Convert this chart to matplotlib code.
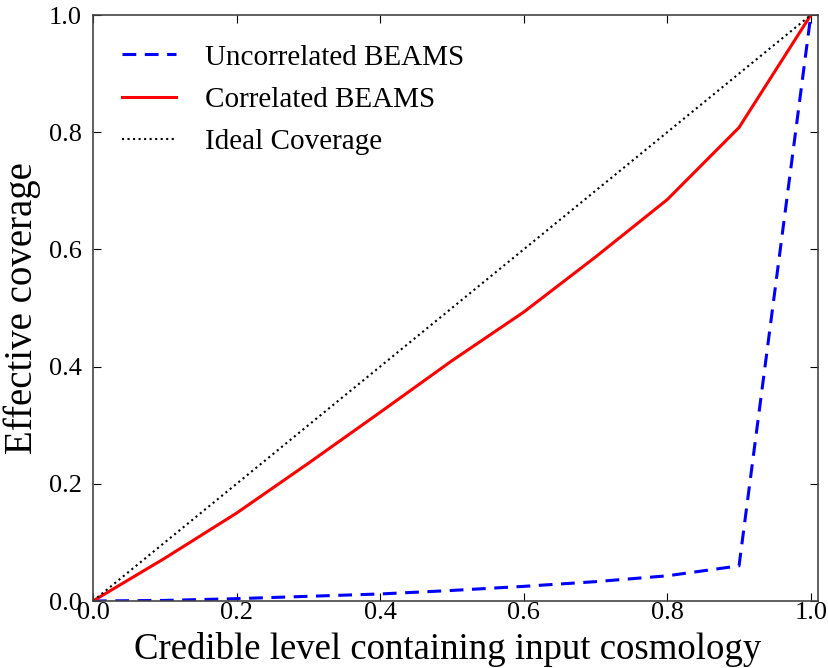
import matplotlib
matplotlib.use("Agg")
import matplotlib.pyplot as plt

plt.rcParams["font.family"] = ["Liberation Serif", "DejaVu Serif"]
plt.rcParams["mathtext.fontset"] = "stix"

levels = [0.0, 0.1, 0.2, 0.3, 0.4, 0.5, 0.6, 0.7, 0.8, 0.9, 1.0]
uncorrelated = [0.0, 0.001, 0.004, 0.008, 0.012, 0.018, 0.025, 0.033, 0.043, 0.06, 1.0]
correlated = [0.0, 0.073, 0.15, 0.235, 0.322, 0.41, 0.493, 0.587, 0.685, 0.808, 1.0]
ideal = [0.0, 1.0]
ideal_x = [0.0, 1.0]

fig = plt.figure(figsize=(8.29, 6.68), dpi=100)
ax = fig.add_axes([93 / 829, 1 - 601 / 668, (818 - 93) / 829, (601 - 15) / 668])

ax.plot(levels, uncorrelated, color="blue", ls="--", dashes=(4.5, 2.8), lw=2.2,
        label="Uncorrelated BEAMS")
ax.plot(levels, correlated, color="red", ls="-", lw=2.2, label="Correlated BEAMS")
ax.plot(ideal_x, ideal, color="black", ls=":", lw=1.5, label="Ideal Coverage")

ax.set_xlim(0, 1.01)
ax.set_ylim(0, 1.0)
ax.set_xticks([0.0, 0.2, 0.4, 0.6, 0.8, 1.0])
ax.set_yticks([0.0, 0.2, 0.4, 0.6, 0.8, 1.0])
ax.tick_params(direction="in", top=True, right=True, length=6, labelsize=19)
ax.tick_params(axis="x", pad=1)
ax.tick_params(axis="y", pad=8)
for s in ax.spines.values():
    s.set_color("#444444")
    s.set_linewidth(1.2)

ax.set_xlabel("Credible level containing input cosmology", fontsize=26.5, va="bottom")
# anchor the x label to the bottom edge of the figure
ax.xaxis.set_label_coords(0.5, -0.0, transform=fig.transFigure)
ax.xaxis.label.set_x(0.5 * (93 + 818) / 829 - 0.01)
ax.xaxis.label.set_y(1 / 668)
ax.set_ylabel("Effective coverage", fontsize=28, labelpad=6)

ax.legend(loc="upper left", frameon=False, fontsize=21, handlelength=1.85,
          borderaxespad=0.6, labelspacing=0.55, handletextpad=1.0)

fig.savefig("out.png", dpi=100)
